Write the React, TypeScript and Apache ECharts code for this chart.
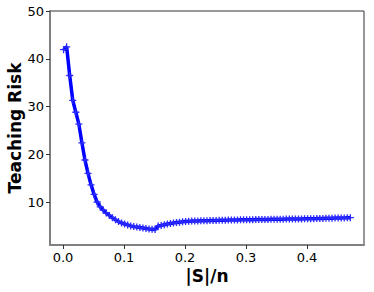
import React, { useEffect, useRef } from "react";
import * as echarts from "echarts";

const xValues = [
  0.001, 0.006, 0.011, 0.016, 0.021, 0.026, 0.031, 0.036, 0.041, 0.046,
  0.051, 0.056, 0.061, 0.066, 0.071, 0.076, 0.081, 0.086, 0.091, 0.096,
  0.101, 0.106, 0.111, 0.116, 0.121, 0.126, 0.131, 0.136, 0.141, 0.146,
  0.151, 0.156, 0.161, 0.166, 0.171, 0.176, 0.181, 0.186, 0.191, 0.196,
  0.201, 0.206, 0.211, 0.216, 0.221, 0.226, 0.231, 0.236, 0.241, 0.246,
  0.251, 0.256, 0.261, 0.266, 0.271, 0.276, 0.281, 0.286, 0.291, 0.296,
  0.301, 0.306, 0.311, 0.316, 0.321, 0.326, 0.331, 0.336, 0.341, 0.346,
  0.351, 0.356, 0.361, 0.366, 0.371, 0.376, 0.381, 0.386, 0.391, 0.396,
  0.401, 0.406, 0.411, 0.416, 0.421, 0.426, 0.431, 0.436, 0.441, 0.446,
  0.451, 0.456, 0.461, 0.466, 0.471,
];

const riskValues = [
  41.9, 42.5, 36.5, 31.3, 28.8, 26.3, 22.4, 18.8, 16.0, 13.6,
  11.6, 10.0, 9.0, 8.3, 7.7, 7.2, 6.7, 6.3, 5.9, 5.6,
  5.4, 5.2, 5.0, 4.85, 4.75, 4.65, 4.55, 4.45, 4.35, 4.3,
  4.25, 5.0, 5.1, 5.25, 5.4, 5.5, 5.6, 5.7, 5.78, 5.85,
  5.9, 5.95, 6.0, 6.02, 6.04, 6.06, 6.08, 6.1, 6.11, 6.13,
  6.15, 6.16, 6.18, 6.2, 6.21, 6.23, 6.24, 6.25, 6.27, 6.28,
  6.29, 6.3, 6.31, 6.32, 6.33, 6.34, 6.35, 6.36, 6.37, 6.38,
  6.39, 6.4, 6.41, 6.42, 6.43, 6.44, 6.45, 6.46, 6.47, 6.48,
  6.49, 6.5, 6.52, 6.53, 6.55, 6.56, 6.58, 6.6, 6.61, 6.63,
  6.65, 6.66, 6.68, 6.7, 6.72,
];

const xTitle = "|S|/n";
const yTitle = "Teaching Risk";

const FONT = "DejaVu Sans";

export default function App() {
  const ref = useRef<HTMLDivElement>(null);
  useEffect(() => {
    if (!ref.current) return;
    const chart = echarts.init(ref.current, undefined, { renderer: "svg" });
    const data = xValues.map((x, i) => [x, riskValues[i]]);
    chart.setOption({
      animation: false,
      backgroundColor: "#ffffff",
      grid: {
        left: 50,
        top: 11,
        right: 10,
        bottom: 47,
        outerBoundsMode: "none",
        containLabel: false,
        show: true,
        borderColor: "#333333",
        borderWidth: 1,
        backgroundColor: "transparent",
      },
      xAxis: {
        type: "value",
        min: -0.0213,
        max: 0.4934,
        minInterval: 0.1,
        maxInterval: 0.1,
        splitNumber: 5,
        name: xTitle,
        nameLocation: "middle",
        nameGap: 22,
        nameMoveOverlap: false,
        nameTextStyle: { fontFamily: FONT, fontSize: 17, fontWeight: "bold", color: "#000" },
        axisLine: { show: true, onZero: false, lineStyle: { color: "#808080", width: 2 } },
        axisTick: { show: true, length: 4, lineStyle: { color: "#333", width: 1 } },
        axisLabel: {
          showMinLabel: false,
          showMaxLabel: false,
          margin: 6,
          fontFamily: FONT,
          fontSize: 13,
          color: "#000",
          formatter: (v: number) => v.toFixed(1),
        },
        splitLine: { show: false },
      },
      yAxis: {
        type: "value",
        min: 1,
        max: 50,
        minInterval: 10,
        maxInterval: 10,
        splitNumber: 5,
        name: yTitle,
        nameLocation: "middle",
        nameGap: 27,
        nameMoveOverlap: false,
        nameTextStyle: { fontFamily: FONT, fontSize: 17, fontWeight: "bold", color: "#000" },
        axisLine: { show: true, onZero: false, lineStyle: { color: "#808080", width: 2 } },
        axisTick: { show: true, length: 4, lineStyle: { color: "#333", width: 1 } },
        axisLabel: {
          showMinLabel: false,
          margin: 6,
          fontFamily: FONT,
          fontSize: 13,
          color: "#000",
        },
        splitLine: { show: false },
      },
      series: [
        {
          type: "line",
          data,
          lineStyle: { color: "#0000ff", width: 3.5 },
          itemStyle: { color: "#2a2aff" },
          symbol: "path://M-0.75,-4h1.5v3.25h3.25v1.5h-3.25v3.25h-1.5v-3.25h-3.25v-1.5h3.25z",
          symbolSize: 7,
          showAllSymbol: true,
          z: 3,
        },
      ],
    });
    return () => chart.dispose();
  }, []);
  return (
    <div
      ref={ref}
      style={{ position: "absolute", left: 0, top: 0, width: 374, height: 292 }}
    />
  );
}
